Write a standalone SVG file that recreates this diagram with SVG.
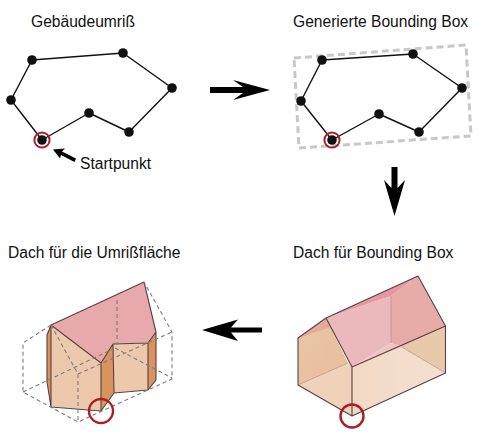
<svg xmlns="http://www.w3.org/2000/svg" width="500" height="443" viewBox="0 0 500 443">
<style>
text{font-family:"Liberation Sans",Arial,sans-serif;font-size:15.6px;fill:#111}
.o{fill:none;stroke:#111;stroke-width:1.4;stroke-linejoin:round}
.d{fill:#111}
.r{fill:none;stroke:#b01c26;stroke-width:2}
.r2{fill:none;stroke:#b01c26;stroke-width:2.4}
.e{fill:none;stroke:#5a4040;stroke-width:1.1;stroke-linejoin:round}
.f{fill:none;stroke:#b08f7c;stroke-width:.7}
.g{fill:none;stroke:#7d7d7d;stroke-width:1.1;stroke-dasharray:4 3}
</style>
<defs>
<linearGradient id="wl" x1="0" y1="0" x2="1" y2="1"><stop offset="0" stop-color="#e9c7a8"/><stop offset="1" stop-color="#e8bc9c"/></linearGradient>
<linearGradient id="fl" x1="0" y1="0" x2="1" y2="0"><stop offset="0" stop-color="#f2d9c5"/><stop offset="1" stop-color="#f4e0d0"/></linearGradient>
</defs>
<rect width="500" height="443" fill="#fff"/>
<g id="title-1"><text x="31" y="27">Gebäudeumriß</text></g>
<g id="title-2"><text x="293" y="27">Generierte Bounding Box</text></g>
<g id="title-3"><text x="293" y="258">Dach für Bounding Box</text></g>
<g id="title-4"><text x="8" y="258">Dach für die Umrißfläche</text></g>
<g id="start-label"><text x="80" y="169">Startpunkt</text></g>

<g id="outline">
<polygon class="o" points="32,60 123,53 172,88 129,132 89,113 42,140 11,100"/>
<g class="d"><circle cx="32" cy="60" r="4.800"/><circle cx="123" cy="53" r="4.800"/><circle cx="172" cy="88" r="4.800"/><circle cx="129" cy="132" r="4.800"/><circle cx="89" cy="113" r="4.800"/><circle cx="42" cy="140" r="4.800"/><circle cx="11" cy="100" r="4.800"/></g>
<circle class="r" cx="42" cy="140" r="7.600"/>
</g>

<g id="bounding">
<polygon points="294,58 466,45 471,136 299,148" fill="none" stroke="#c8c8c8" stroke-width="3" stroke-dasharray="7 4"/>
<polygon class="o" points="322,60 413,54 462,88 419,132 379,114 332,140 301,101"/>
<g class="d"><circle cx="322" cy="60" r="4.800"/><circle cx="413" cy="54" r="4.800"/><circle cx="462" cy="88" r="4.800"/><circle cx="419" cy="132" r="4.800"/><circle cx="379" cy="114" r="4.800"/><circle cx="332" cy="140" r="4.800"/><circle cx="301" cy="101" r="4.800"/></g>
<circle class="r" cx="332" cy="140" r="7.600"/>
</g>

<g id="connectors" fill="#000">
<path d="M210,87H243L233,80 270,90 233,100 243,93H210Z"/>
<path d="M391.500,167V188L384,180 394.500,216 405,180 397.500,188V167Z"/>
<path d="M262,327.500H231L238,319.500 202,330 238,341 231,332.500H262Z"/>
<path d="M76,158.500 62,151.500 65,148.500 53,149.500 60,158.500 61,155 74.500,162Z"/>
</g>

<g id="house-box">
<polygon points="298,338 326,318 348,363 298,385" fill="url(#wl)"/>
<polygon points="298,338 326,318 331,327" fill="#e4aa9a"/>
<polygon points="298,385 348,363 352,367 352,416" fill="#f0d2ba"/>
<polygon points="352,367 402,347 445.500,373 352,416" fill="url(#fl)"/>
<polygon points="402,347 445.500,326 445.500,373" fill="#e9c9ab"/>
<polygon points="326,318 391,296 391,343 352,367" fill="#ebb8bc"/>
<polygon points="391,296 418,276 445.500,326 402,347 391,343" fill="#e8aca8"/>
<polygon points="326,318 418,276 391,296" fill="#e59aa3"/>
<polygon points="352,367 391,343 402,347" fill="#efc5c0"/>
<path class="f" d="M298,385 348,363M402,347 445.500,373M391,296V343"/>
<path class="e" d="M298,338 326,318 418,276 445.500,326V373L352,416 298,385ZM326,318 352,367 445.500,326M352,367V416"/>
<circle class="r2" cx="352" cy="416" r="11.500"/>
</g>

<g id="house-outline">
<polygon points="51,325 144,282 156,332 148,343 113,344 101,363" fill="#e8a9ac"/>
<polygon points="51,325 101,363 101,411 51,407" fill="#ecc9ad"/>
<polygon points="113,344 148,343 148,390 114,393" fill="#ecc9ad"/>
<polygon points="47,335 51,325 51,407 47,382" fill="#d9935f"/>
<polygon points="101,363 113,344 114,393 101,411" fill="#d9935f"/>
<polygon points="148,343 156,332 156,380 148,390" fill="#d9935f"/>
<path class="e" d="M51,325 144,282 156,332 148,343 113,344 101,363ZM47,335 51,325V407L47,382ZM51,407 101,411 114,393 148,390 156,380V332M101,363V411M113,344 114,393M148,343V390"/>
<path class="g" d="M51,325 23,343V392L78,422 172,379V332L144,282M78,374 172,332M78,374V422M51,325 78,374M23,392 113,349M117,300V345M115,348 172,378"/>
<circle class="r2" cx="101" cy="411" r="12"/>
</g>
</svg>
